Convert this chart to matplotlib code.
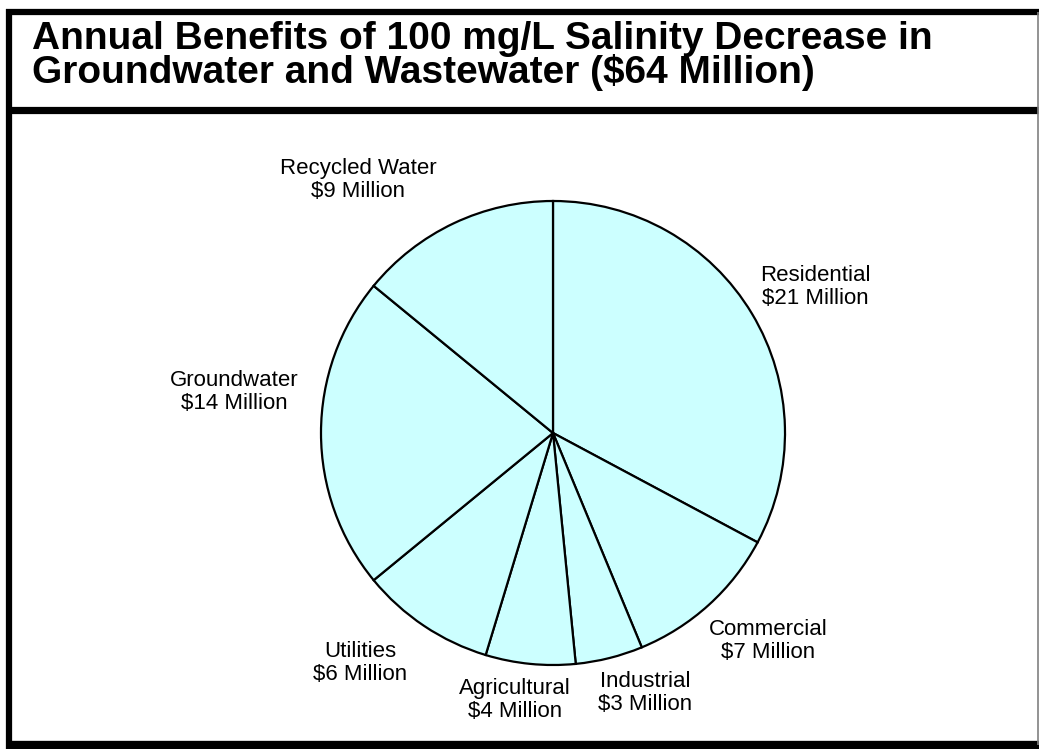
import numpy as np
import matplotlib
matplotlib.use("Agg")
import matplotlib.pyplot as plt
from matplotlib.lines import Line2D

plt.rcParams['font.family'] = ['Liberation Sans', 'DejaVu Sans']

# data
categories = ["Residential", "Commercial", "Industrial", "Agricultural",
              "Utilities", "Groundwater", "Recycled Water"]
values = [21, 7, 3, 4, 6, 14, 9]   # $ million
total = sum(values)
title = ("Annual Benefits of 100 mg/L Salinity Decrease in\n"
         "Groundwater and Wastewater (${} Million)".format(total))

# layout (pixel coords, y from top)
W, H = 1039, 749
center = (553, 433)
radius = 232
label_pos = [(815, 287), (768, 641), (645, 693), (515, 700),
             (360, 663), (234, 392), (358, 180)]

fig = plt.figure(figsize=(W / 100, H / 100), dpi=100)
ax = fig.add_axes([0, 0, 1, 1])
ax.set_xlim(0, W)
ax.set_ylim(0, H)
ax.set_aspect('equal')
ax.axis('off')

ax.pie(values, center=(center[0], H - center[1]), radius=radius,
       startangle=90, counterclock=False, colors=['#ccffff'] * len(values),
       wedgeprops=dict(edgecolor='black', linewidth=1.6))
ax.set_xlim(0, W)
ax.set_ylim(0, H)

for cat, val, (px, py) in zip(categories, values, label_pos):
    ax.text(px, H - py, "{}\n${} Million".format(cat, val), ha='center',
            va='center', fontsize=16, linespacing=1.15)

# frame lines
def hline(y, x0, x1, lw, c='black'):
    fig.add_artist(Line2D([x0 / W, x1 / W], [1 - y / H, 1 - y / H],
                          color=c, linewidth=lw, solid_capstyle='butt'))

def vline(x, y0, y1, lw, c='black'):
    fig.add_artist(Line2D([x / W, x / W], [1 - y0 / H, 1 - y1 / H],
                          color=c, linewidth=lw, solid_capstyle='butt'))

hline(12, 6, 1039, 4.5)
hline(109.5, 6, 1038, 5.2)
hline(745, 6, 1039, 6)
vline(9, 9, 749, 4.5)
vline(1037.5, 12, 745, 1.2, '#808080')

fig.text(32 / W, 1 - 21 / H, title, ha='left', va='top', fontsize=28,
         fontweight='bold', linespacing=0.88)

fig.savefig('out.png', dpi=100)
